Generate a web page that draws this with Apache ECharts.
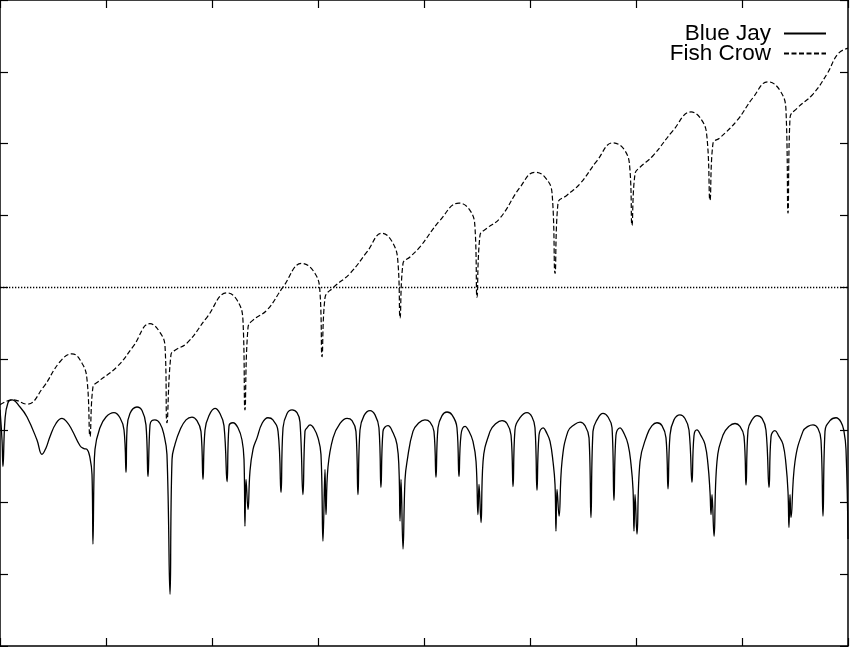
<!DOCTYPE html>
<html>
<head>
<meta charset="utf-8">
<script src="https://cdn.jsdelivr.net/npm/echarts@6/dist/echarts.min.js"></script>
<style>html,body{margin:0;padding:0;background:#fff;}#chart{width:850px;height:647px;}</style>
</head>
<body>
<div id="chart"></div>
<script>
const seriesNames = ['Blue Jay', 'Fish Crow'];
const xTicks = [0, 8, 1];
const yTicks = [-5, 4, 1];

const bjX = [0,0.019,0.028,0.047,0.075,0.113,0.189,0.255,0.349,0.396,0.434,0.472,0.528,0.585,0.632,0.679,0.755,0.792,0.821,0.849,0.868,0.877,0.887,0.896,0.943,1.000,1.075,1.132,1.170,1.189,1.198,1.226,1.292,1.340,1.377,1.396,1.415,1.434,1.462,1.509,1.547,1.575,1.604,1.623,1.651,1.698,1.755,1.811,1.858,1.896,1.915,1.934,1.972,2.028,2.075,2.113,2.142,2.160,2.198,2.245,2.283,2.302,2.311,2.321,2.340,2.358,2.387,2.425,2.472,2.528,2.575,2.623,2.651,2.670,2.708,2.755,2.802,2.830,2.858,2.877,2.896,2.925,2.962,3.000,3.028,3.047,3.066,3.075,3.094,3.142,3.208,3.274,3.321,3.358,3.377,3.396,3.434,3.491,3.538,3.575,3.594,3.613,3.660,3.708,3.745,3.764,3.774,3.783,3.802,3.821,3.840,3.896,3.953,4.009,4.057,4.094,4.113,4.132,4.170,4.217,4.264,4.311,4.330,4.349,4.387,4.425,4.462,4.491,4.509,4.519,4.538,4.557,4.623,4.679,4.736,4.783,4.821,4.840,4.858,4.906,4.972,5.019,5.047,5.066,5.085,5.123,5.160,5.189,5.217,5.236,5.245,5.255,5.274,5.302,5.358,5.415,5.472,5.519,5.557,5.575,5.594,5.632,5.689,5.736,5.774,5.792,5.811,5.849,5.887,5.925,5.953,5.972,5.981,5.991,6.009,6.038,6.104,6.151,6.198,6.245,6.283,6.302,6.321,6.358,6.415,6.462,6.500,6.528,6.547,6.575,6.613,6.651,6.679,6.698,6.708,6.717,6.736,6.764,6.821,6.877,6.934,6.981,7.019,7.038,7.057,7.094,7.142,7.189,7.226,7.255,7.274,7.311,7.349,7.387,7.415,7.434,7.443,7.453,7.462,7.500,7.575,7.623,7.670,7.717,7.745,7.764,7.783,7.830,7.887,7.934,7.962,7.981,8.000];
const bjY = [-1.71,-2.13,-2.50,-1.85,-1.61,-1.57,-1.67,-1.81,-2.13,-2.33,-2.24,-2.08,-1.90,-1.83,-1.88,-1.99,-2.21,-2.25,-2.26,-2.38,-2.61,-3.58,-2.61,-2.26,-1.96,-1.81,-1.75,-1.82,-1.99,-2.58,-1.99,-1.76,-1.67,-1.72,-1.92,-2.64,-1.92,-1.86,-1.85,-1.90,-2.06,-2.33,-4.28,-2.40,-2.19,-1.99,-1.85,-1.81,-1.86,-2.01,-2.68,-1.99,-1.79,-1.69,-1.76,-1.93,-2.71,-1.94,-1.89,-1.96,-2.13,-2.40,-3.33,-2.68,-3.10,-2.57,-2.26,-2.10,-1.90,-1.82,-1.85,-2.01,-2.86,-1.96,-1.76,-1.71,-1.75,-1.88,-2.89,-2.01,-1.96,-1.92,-1.97,-2.10,-2.33,-3.54,-2.54,-3.17,-2.51,-2.10,-1.90,-1.83,-1.86,-2.01,-2.89,-1.99,-1.79,-1.72,-1.78,-1.96,-2.79,-2.01,-1.93,-2.03,-2.19,-2.54,-3.26,-2.68,-3.65,-2.68,-2.43,-2.01,-1.89,-1.85,-1.88,-2.01,-2.65,-1.96,-1.79,-1.74,-1.78,-1.96,-2.64,-2.06,-1.94,-2.01,-2.15,-2.43,-3.17,-2.75,-3.28,-2.43,-2.01,-1.90,-1.86,-1.90,-2.06,-2.78,-1.99,-1.82,-1.75,-1.81,-1.96,-2.83,-2.06,-1.96,-2.04,-2.15,-2.43,-2.75,-3.40,-2.82,-3.19,-2.43,-2.01,-1.92,-1.88,-1.93,-2.10,-3.21,-2.01,-1.85,-1.76,-1.81,-1.96,-2.97,-2.06,-1.96,-2.04,-2.19,-2.47,-2.82,-3.40,-2.89,-3.44,-2.43,-2.06,-1.93,-1.89,-1.93,-2.10,-2.81,-2.06,-1.85,-1.78,-1.83,-1.99,-2.72,-2.07,-1.99,-2.07,-2.19,-2.47,-2.85,-3.17,-2.89,-3.47,-2.43,-2.06,-1.94,-1.90,-1.94,-2.08,-2.76,-1.99,-1.85,-1.79,-1.83,-1.99,-2.79,-2.08,-2.00,-2.08,-2.19,-2.47,-2.85,-3.35,-2.89,-3.21,-2.43,-2.01,-1.94,-1.92,-1.97,-2.13,-3.19,-2.01,-1.86,-1.82,-1.88,-2.01,-2.26,-3.51];

const fcX = [0,0.123,0.255,0.406,0.566,0.679,0.774,0.821,0.849,0.877,0.915,1.104,1.255,1.415,1.509,1.557,1.575,1.613,1.651,1.764,1.953,2.142,2.236,2.292,2.311,2.340,2.387,2.519,2.670,2.849,2.972,3.019,3.038,3.066,3.142,3.302,3.462,3.604,3.708,3.755,3.774,3.802,3.868,3.962,4.151,4.330,4.434,4.481,4.500,4.528,4.594,4.717,4.906,5.047,5.142,5.208,5.236,5.264,5.349,5.472,5.632,5.783,5.896,5.943,5.962,5.991,6.038,6.160,6.349,6.519,6.623,6.670,6.698,6.726,6.792,6.953,7.104,7.245,7.358,7.415,7.434,7.453,7.519,7.670,7.802,7.906,8.000];
const fcY = [-1.64,-1.57,-1.63,-1.40,-1.04,-0.93,-1.06,-1.29,-2.08,-1.39,-1.33,-1.11,-0.83,-0.51,-0.63,-0.83,-1.89,-0.94,-0.88,-0.78,-0.42,-0.08,-0.18,-0.46,-1.71,-0.56,-0.46,-0.32,0,0.33,0.19,-0.08,-0.97,-0.15,-0.01,0.19,0.49,0.75,0.61,0.33,-0.43,0.33,0.42,0.56,0.93,1.17,1.07,0.83,-0.14,0.72,0.82,0.96,1.39,1.60,1.53,1.31,0.19,1.17,1.28,1.44,1.76,2.01,1.90,1.63,0.86,1.58,1.67,1.83,2.18,2.44,2.32,2.08,1.21,2.00,2.08,2.32,2.64,2.86,2.74,2.46,1.03,2.36,2.49,2.69,2.97,3.25,3.33];

const zeroLevel = 0;

function zip(xs, ys) {
  const n = Math.min(xs.length, ys.length);
  const out = [];
  for (let i = 0; i < n; i++) out.push([xs[i], ys[i]]);
  return out;
}

const axisCommon = {
  axisLine: { show: true, onZero: false, lineStyle: { color: '#000', width: 1.5 } },
  axisTick: { show: true, inside: true, length: 8, lineStyle: { color: '#000', width: 1.2 } },
  axisLabel: { show: false },
  splitLine: { show: false }
};

const chart = echarts.init(document.getElementById('chart'), null, { renderer: 'canvas' });
chart.setOption({
  animation: false,
  backgroundColor: '#fff',
  grid: { left: 0, right: 2, top: -1, bottom: 1, containLabel: false },
  xAxis: [
    Object.assign({ type: 'value', position: 'bottom', min: xTicks[0], max: xTicks[1], interval: xTicks[2] }, axisCommon),
    Object.assign({ type: 'value', position: 'top', min: xTicks[0], max: xTicks[1], interval: xTicks[2] }, axisCommon)
  ],
  yAxis: [
    Object.assign({ type: 'value', position: 'left', min: yTicks[0], max: yTicks[1], interval: yTicks[2] }, axisCommon),
    Object.assign({ type: 'value', position: 'right', min: yTicks[0], max: yTicks[1], interval: yTicks[2] }, axisCommon)
  ],
  legend: {
    data: seriesNames,
    orient: 'vertical',
    align: 'right',
    right: 23,
    top: 22,
    padding: 0,
    itemWidth: 42,
    itemHeight: 14,
    itemGap: -3,
    itemStyle: { opacity: 0 },
    textStyle: { color: '#000', fontSize: 22.5, fontFamily: 'Liberation Sans', lineHeight: 20, padding: [0, 8, 0, 0] }
  },
  series: [
    {
      name: seriesNames[0],
      type: 'line',
      data: zip(bjX, bjY),
      symbol: 'none',
      smooth: 0.45,
      lineStyle: { color: '#000', width: 1.3, type: 'solid' },
      itemStyle: { color: '#000' },
      markLine: {
        silent: true,
        symbol: 'none',
        label: { show: false },
        lineStyle: { color: '#000', width: 1.3, type: [1.3, 1.7] },
        data: [{ yAxis: zeroLevel }]
      }
    },
    {
      name: seriesNames[1],
      type: 'line',
      data: zip(fcX, fcY),
      symbol: 'none',
      smooth: 0.45,
      lineStyle: { color: '#000', width: 1.2, type: [5, 2.5] },
      itemStyle: { color: '#000' }
    }
  ]
});
</script>
</body>
</html>
